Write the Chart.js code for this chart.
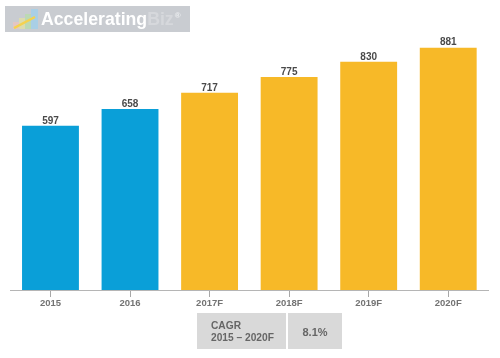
<!DOCTYPE html>
<html><head><meta charset="utf-8">
<style>
html,body{margin:0;padding:0;background:#fff;width:500px;height:358px;overflow:hidden;font-family:"Liberation Sans",Arial,sans-serif}
#wrap{position:relative;width:500px;height:358px}
canvas{position:absolute;left:0;top:0}
.logo{position:absolute;left:5px;top:6px;width:185px;height:26px;background:#c9ccd1}
.logo svg{position:absolute;left:8px;top:3px}
.logo .t{position:absolute;left:36px;top:2px;font-size:17.7px;font-weight:bold;color:#fff;white-space:nowrap;line-height:22px;filter:blur(.3px)}
.logo .t span{color:#d6d8dc}
.logo .t sup{font-size:8px;color:#eceef0;line-height:0;vertical-align:7px;margin-left:1px}
.box{position:absolute;top:313px;height:36px;background:#d9d9d9;color:#666;font-weight:bold;font-size:10.2px}
#b1{left:197px;width:89px}
#b1 div{position:absolute;left:14px;top:7px;line-height:11.5px;white-space:nowrap}
#b2{left:288px;width:54px;text-align:center;line-height:38px;font-size:11px}
</style></head><body>
<div id="wrap">
<canvas id="c" width="500" height="358"></canvas>
<div class="logo">
<svg width="26" height="20" viewBox="0 0 26 20"><rect x="0" y="13" width="6" height="7" fill="#e3c6c4"/><rect x="6" y="9" width="6" height="11" fill="#dcdcae"/><rect x="12" y="5" width="6" height="15" fill="#bcd9b4"/><rect x="18" y="0" width="7" height="20" fill="#a9cfe6"/><path d="M1 19 L22 8" stroke="#f4d24f" stroke-width="2.5" fill="none"/></svg>
<div class="t">Accelerating<span>Biz</span><sup>®</sup></div>
</div>
<div class="box" id="b1"><div>CAGR<br>2015 – 2020F</div></div>
<div class="box" id="b2">8.1%</div>
</div>
<script src="https://cdn.jsdelivr.net/npm/chart.js@4"></script>
<script>
const categories=["2015","2016","2017F","2018F","2019F","2020F"];
const values=[597,658,717,775,830,881];
const barColors=["#0a9fd8","#0a9fd8","#f7b928","#f7b928","#f7b928","#f7b928"];
const valueLabels={id:"valueLabels",afterDatasetsDraw(ch){
  const c=ch.ctx,m=ch.getDatasetMeta(0);
  c.save();c.font='bold 10px "Liberation Sans"';c.fillStyle="#4a4a4a";c.textAlign="center";c.textBaseline="bottom";
  m.data.forEach((b,i)=>c.fillText(values[i],b.x,b.y));
  c.restore();
}};
new Chart(document.getElementById("c"),{
  type:"bar",
  data:{labels:categories,datasets:[{data:values,backgroundColor:barColors,borderWidth:0,categoryPercentage:1,barPercentage:0.715}]},
  plugins:[valueLabels],
  options:{
    responsive:false,animation:false,
    layout:{padding:{left:10.7,right:12,top:15,bottom:0}},
    plugins:{legend:{display:false},tooltip:{enabled:false}},
    scales:{
      y:{display:false,min:0,max:1000},
      x:{
        afterFit(s){s.height=68},
        offset:true,
        border:{color:"#b5b5b5",width:1},
        grid:{display:true,drawOnChartArea:false,drawTicks:true,tickLength:7,color:"#a8a8a8",tickColor:"#a8a8a8",offset:false},
        ticks:{color:"#737373",font:{family:'"Liberation Sans"',size:9.5,weight:"bold"},padding:1,maxRotation:0}
      }
    }
  }
});
</script>
</body></html>
